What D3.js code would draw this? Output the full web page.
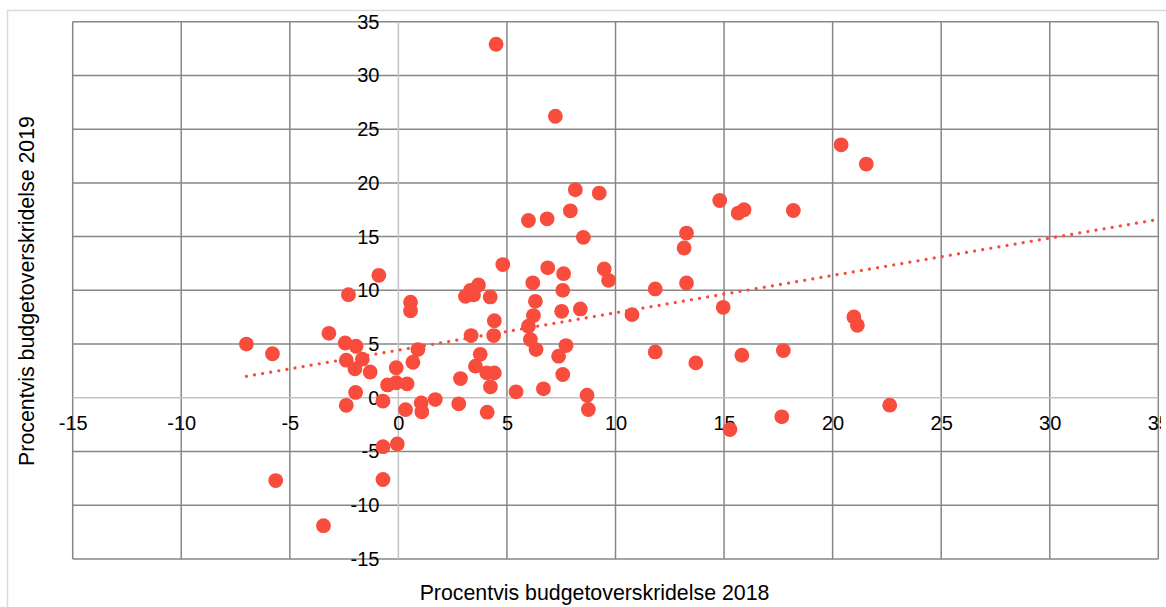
<!DOCTYPE html>
<html>
<head>
<meta charset="utf-8">
<script src="https://cdn.jsdelivr.net/npm/d3@7"></script>
<style>
  html, body { margin: 0; padding: 0; background: #ffffff; }
  svg { display: block; }
</style>
</head>
<body>
<svg id="chart" width="1166" height="607"></svg>
<script>
// Percent budget overrun 2018 (x) and 2019 (y)
const x2018 = [
  -0.9, -2.3, 0.56, 0.56, -3.2, -7.0, -5.8, -2.45, -1.95, -2.4,
  -1.66, -2.0, -1.3, -0.1, -0.5, -0.1, 0.4, -1.97, -2.4, -0.71,
  0.33, -0.71, -0.05, -5.65, -0.71, -3.45, 4.5, 7.23, 8.15, 9.25,
  7.92, 5.99, 6.85, 8.52, 4.81, 6.88, 7.61, 6.19, 3.69, 3.32,
  3.09, 3.46, 4.23, 7.57, 6.31, 7.52, 8.38, 6.22, 4.42, 5.99,
  3.35, 4.39, 6.08, 6.34, 7.72, 7.38, 0.9, 0.67, 3.77, 3.55,
  4.07, 4.42, 2.86, 4.24, 7.57, 5.42, 6.68, 8.69, 8.75, 1.7,
  1.05, 1.08, 2.78, 4.09, 14.8, 15.65, 15.92, 13.27, 13.16, 9.48,
  9.68, 11.83, 13.27, 10.76, 14.96, 11.83, 13.7, 15.82, 15.27, 20.39,
  21.55, 18.19, 20.98, 21.14, 17.73, 17.66, 22.63
];
const y2019 = [
  11.4, 9.6, 8.9, 8.1, 6.0, 5.0, 4.1, 5.1, 4.8, 3.5,
  3.6, 2.7, 2.4, 2.8, 1.2, 1.4, 1.3, 0.5, -0.7, -0.3,
  -1.1, -4.55, -4.3, -7.7, -7.6, -11.9, 32.9, 26.2, 19.36, 19.05,
  17.4, 16.5, 16.66, 14.93, 12.4, 12.1, 11.55, 10.7, 10.5, 10.0,
  9.44, 9.57, 9.39, 10.0, 8.98, 8.05, 8.27, 7.65, 7.18, 6.66,
  5.79, 5.79, 5.42, 4.49, 4.86, 3.87, 4.49, 3.31, 4.05, 2.94,
  2.32, 2.32, 1.79, 1.02, 2.17, 0.56, 0.84, 0.24, -1.09, -0.16,
  -0.47, -1.3, -0.56, -1.34, 18.36, 17.19, 17.5, 15.33, 13.94, 12.0,
  10.93, 10.13, 10.69, 7.74, 8.42, 4.27, 3.25, 3.96, -2.95, 23.54,
  21.75, 17.43, 7.53, 6.75, 4.4, -1.77, -0.69
];
// dotted linear trendline, end points
const trendX = [-7.0, 35];
const trendY = [2.0, 16.6];
const xTicks = [-15, -10, -5, 0, 5, 10, 15, 20, 25, 30, 35];
const yTicks = [-15, -10, -5, 0, 5, 10, 15, 20, 25, 30, 35];
const xTitle = "Procentvis budgetoverskridelse 2018";
const yTitle = "Procentvis budgetoverskridelse 2019";

const svg = d3.select("#chart");
const FONT = "'Liberation Sans', Arial, sans-serif";
const dotColor = "#f84c3d";
const gridColor = "#878787";
const axisColor = "#c3c3c3";

const x = d3.scaleLinear().domain([-15, 35]).range([72.7, 1158.3]);
const y = d3.scaleLinear().domain([-15, 35]).range([559, 21.7]);

// outer border
svg.append("rect")
  .attr("x", 7.5).attr("y", 10.5)
  .attr("width", 1175).attr("height", 620)
  .attr("fill", "none").attr("stroke", "#d9d9d9").attr("stroke-width", 1.5);

// gridlines
const grid = svg.append("g");
grid.selectAll("line.vx").data(xTicks.filter(d => d !== 0)).join("line")
  .attr("x1", d => x(d)).attr("x2", d => x(d))
  .attr("y1", y(35)).attr("y2", y(-15))
  .attr("stroke", gridColor).attr("stroke-width", 1.5);
grid.selectAll("line.hy").data(yTicks.filter(d => d !== 0)).join("line")
  .attr("y1", d => y(d)).attr("y2", d => y(d))
  .attr("x1", x(-15)).attr("x2", x(35))
  .attr("stroke", gridColor).attr("stroke-width", 1.5);

// zero axes (lighter)
svg.append("line")
  .attr("x1", x(0)).attr("x2", x(0)).attr("y1", y(35)).attr("y2", y(-15))
  .attr("stroke", axisColor).attr("stroke-width", 1.5);
svg.append("line")
  .attr("y1", y(0)).attr("y2", y(0)).attr("x1", x(-15)).attr("x2", x(35))
  .attr("stroke", axisColor).attr("stroke-width", 1.5);

// tick labels via d3 axes (domain and tick lines hidden)
svg.append("clipPath").attr("id", "clipx")
  .append("rect").attr("x", 0).attr("y", 0).attr("width", 1161).attr("height", 607);

const fmt = d => String(d);
const xAxis = svg.append("g")
  .attr("transform", `translate(0,${y(0)})`)
  .attr("clip-path", "url(#clipx)")
  .call(d3.axisBottom(x).tickValues(xTicks).tickSize(0).tickFormat(fmt));
xAxis.select(".domain").remove();
xAxis.selectAll("text").attr("font-family", FONT).attr("font-size", 20).attr("fill", "#000")
  .attr("dy", "0.35em").attr("y", 25);

const yAxis = svg.append("g")
  .attr("transform", `translate(${x(0)},0)`)
  .call(d3.axisLeft(y).tickValues(yTicks).tickSize(0).tickPadding(19).tickFormat(fmt));
yAxis.select(".domain").remove();
yAxis.selectAll("text").attr("font-family", FONT).attr("font-size", 20).attr("fill", "#000");

// trendline
svg.append("line")
  .attr("x1", x(trendX[0])).attr("y1", y(trendY[0]))
  .attr("x2", x(trendX[1])).attr("y2", y(trendY[1]))
  .attr("stroke", dotColor).attr("stroke-width", 3.2)
  .attr("stroke-linecap", "round").attr("stroke-dasharray", "0.01 8.2");

// points
svg.append("g").selectAll("circle").data(x2018.map((d, i) => [d, y2019[i]])).join("circle")
  .attr("cx", d => x(d[0])).attr("cy", d => y(d[1])).attr("r", 7.4)
  .attr("fill", dotColor);

// axis titles
svg.append("text")
  .attr("x", 594.5).attr("y", 600)
  .attr("text-anchor", "middle")
  .attr("font-family", FONT).attr("font-size", 21.33).attr("fill", "#000")
  .text(xTitle);
svg.append("text")
  .attr("transform", `translate(33.5,291) rotate(-90)`)
  .attr("text-anchor", "middle")
  .attr("font-family", FONT).attr("font-size", 21.33).attr("fill", "#000")
  .text(yTitle);
</script>
</body>
</html>
